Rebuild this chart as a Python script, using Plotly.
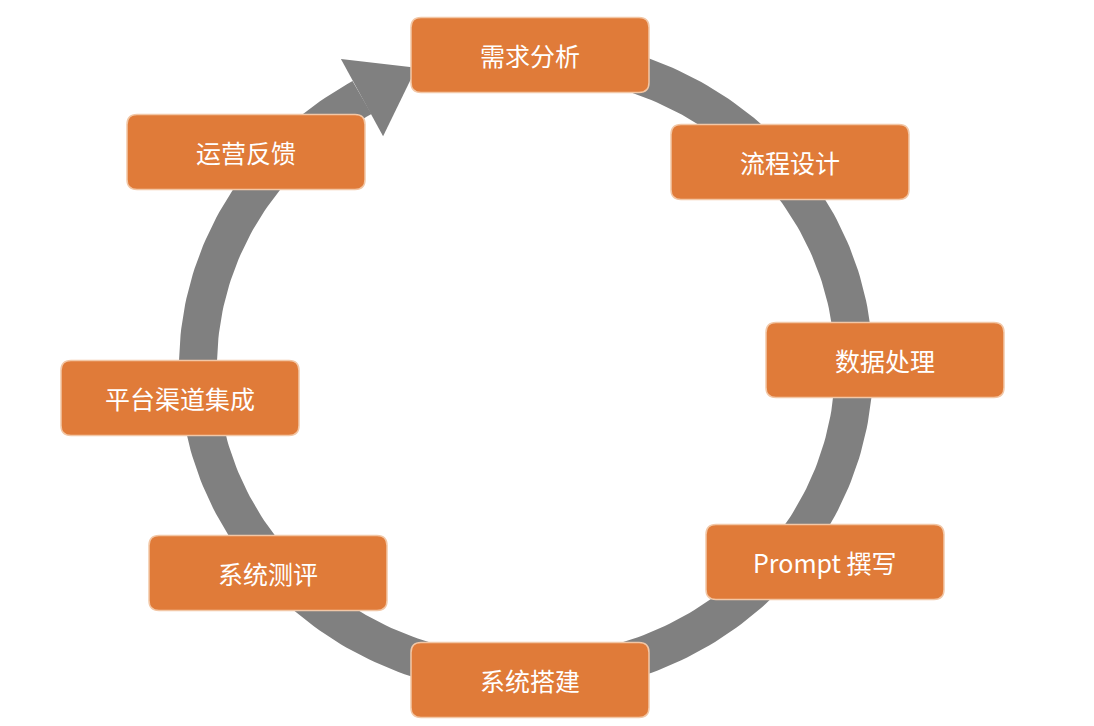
import numpy as np
import plotly.graph_objects as go

# ── data ─────────────────────────────────────────────
STEPS = ["需求分析", "流程设计", "数据处理", "Prompt 撰写",
         "系统搭建", "系统测评", "平台渠道集成", "运营反馈"]

# ── layout (pixels) ──────────────────────────────────
W, H = 1094, 726
CX, CY, RX, RY = 518, 358, 328, 310
RING_W = 38
BOX_CENTERS = [(522, 47), (782, 154), (877, 352), (817, 554),
               (522, 672), (260, 565), (172, 390), (238, 144)]
BOX_W, BOX_H, RAD = 238, 75, 10
ORANGE = "#E07B39"
GRAY = "#808080"
FONT = "Noto Sans CJK SC, Noto Sans, sans-serif"


def ell(t, dr=0):
    return CX + (RX + dr) * np.cos(t), CY - (RY + dr) * np.sin(t)


def rounded(x0, y0, x1, y1, r):
    return (f"M{x0+r},{y0} L{x1-r},{y0} Q{x1},{y0} {x1},{y0+r} "
            f"L{x1},{y1-r} Q{x1},{y1} {x1-r},{y1} L{x0+r},{y1} "
            f"Q{x0},{y1} {x0},{y1-r} L{x0},{y0+r} Q{x0},{y0} {x0+r},{y0} Z")


fig = go.Figure()

# ring arc: from under the top box, clockwise round to the arrow base
t_end = np.radians(120 - 360)
t = np.linspace(np.radians(80), t_end, 300)
ox, oy = ell(t, RING_W / 2)
ix, iy = ell(t[::-1], -RING_W / 2)
fig.add_trace(go.Scatter(x=np.r_[ox, ix], y=np.r_[oy, iy], fill="toself",
                         fillcolor=GRAY, line=dict(width=0), mode="lines",
                         hoverinfo="skip", showlegend=False))

# arrowhead
bx, by = ell(t_end)
d = np.array([-RX * np.sin(t_end), -RY * np.cos(t_end)])
d = -d / np.hypot(*d)  # clockwise on screen
n = np.array([-d[1], d[0]])
hw, hl = 44, 62
ax_ = [bx + n[0] * hw, bx + d[0] * hl, bx - n[0] * hw, bx + n[0] * hw]
ay_ = [by + n[1] * hw, by + d[1] * hl, by - n[1] * hw, by + n[1] * hw]
fig.add_trace(go.Scatter(x=ax_, y=ay_, fill="toself", fillcolor=GRAY,
                         line=dict(width=0), mode="lines",
                         hoverinfo="skip", showlegend=False))

shapes = []
annotations = []
for (x, y), label in zip(BOX_CENTERS, STEPS):
    shapes.append(dict(type="path",
                       path=rounded(x - BOX_W / 2, y - BOX_H / 2,
                                    x + BOX_W / 2, y + BOX_H / 2, RAD),
                       fillcolor=ORANGE, line=dict(color="#F2C7A6", width=1.5),
                       layer="above"))
    annotations.append(dict(x=x, y=y, text=label, showarrow=False,
                            font=dict(family=FONT, size=25, color="white")))

fig.update_layout(
    width=W, height=H, shapes=shapes, annotations=annotations,
    margin=dict(l=0, r=0, t=0, b=0),
    paper_bgcolor="white", plot_bgcolor="white",
    xaxis=dict(range=[0, W], visible=False, fixedrange=True),
    yaxis=dict(range=[H, 0], visible=False, fixedrange=True),
)
fig.write_html("out.html")
